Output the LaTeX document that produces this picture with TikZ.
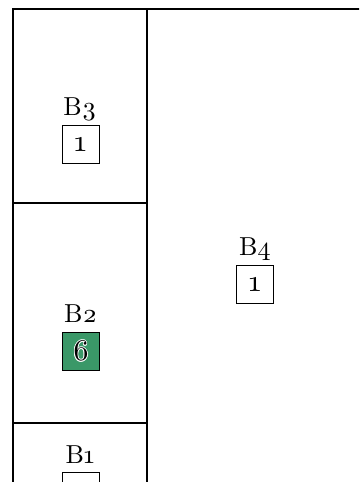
\documentclass[tikz,border=0pt]{standalone}
\usepackage{fontspec}
\setmainfont{lmroman10-regular.otf}[Numbers=OldStyle]
\definecolor{cellgreen}{RGB}{58,152,104}
\newcommand{\halotext}[1]{%
  \makebox[0pt]{\color{white}\raisebox{0.8pt}{#1}}%
  \makebox[0pt]{\color{white}\raisebox{-0.8pt}{#1}}%
  \makebox[0pt]{\color{white}\hspace{1.6pt}#1}%
  \makebox[0pt]{\color{white}#1\hspace{1.6pt}}%
  \makebox[0pt]{\color{white}\raisebox{0.6pt}{\hspace{1.2pt}#1}}%
  \makebox[0pt]{\color{white}\raisebox{-0.6pt}{\hspace{1.2pt}#1}}%
  \makebox[0pt]{\color{white}\raisebox{0.6pt}{#1\hspace{1.2pt}}}%
  \makebox[0pt]{\color{white}\raisebox{-0.6pt}{#1\hspace{1.2pt}}}%
  \makebox[0pt]{#1}}
\begin{document}
\begin{tikzpicture}[x=1pt,y=-1pt,
  cell/.style={draw=black,line width=2.4pt,inner sep=0pt},
  lbl/.style={font=\fontsize{26}{30}\selectfont,inner sep=0pt,anchor=base},
  cnt/.style={draw=black,line width=1pt,minimum width=37pt,minimum height=38pt,inner sep=0pt,font=\fontsize{30}{33}\selectfont}]
\useasboundingbox (0,0) rectangle (359,482);
\clip (0,0) rectangle (359,482);
\coordinate (b3a) at (13,9);   \coordinate (b3b) at (147,203);
\coordinate (b2a) at (13,203); \coordinate (b2b) at (147,423);
\coordinate (b1a) at (13,423); \coordinate (b1b) at (147,490);
\coordinate (b4a) at (147,9);  \coordinate (b4b) at (366,490);
\draw[cell] (b3a) rectangle (b3b);
\draw[cell] (b2a) rectangle (b2b);
\draw[cell] (b1a) rectangle (b1b);
\draw[cell] (b4a) rectangle (b4b);
\node[lbl] (t3) at (80,115) {B3};
\node[cnt] (c3) at (80.5,144) {1};
\node[lbl] (t2) at (80.5,322) {B2};
\node[cnt,fill=cellgreen] (c2) at (81,351) {\halotext{6}};
\node[lbl] (t4) at (255,255) {B4};
\node[cnt] (c4) at (255,284.5) {1};
\node[lbl] (t1) at (80,463) {B1};
\node[cnt] (c1) at (81,491) {};
\end{tikzpicture}
\end{document}
